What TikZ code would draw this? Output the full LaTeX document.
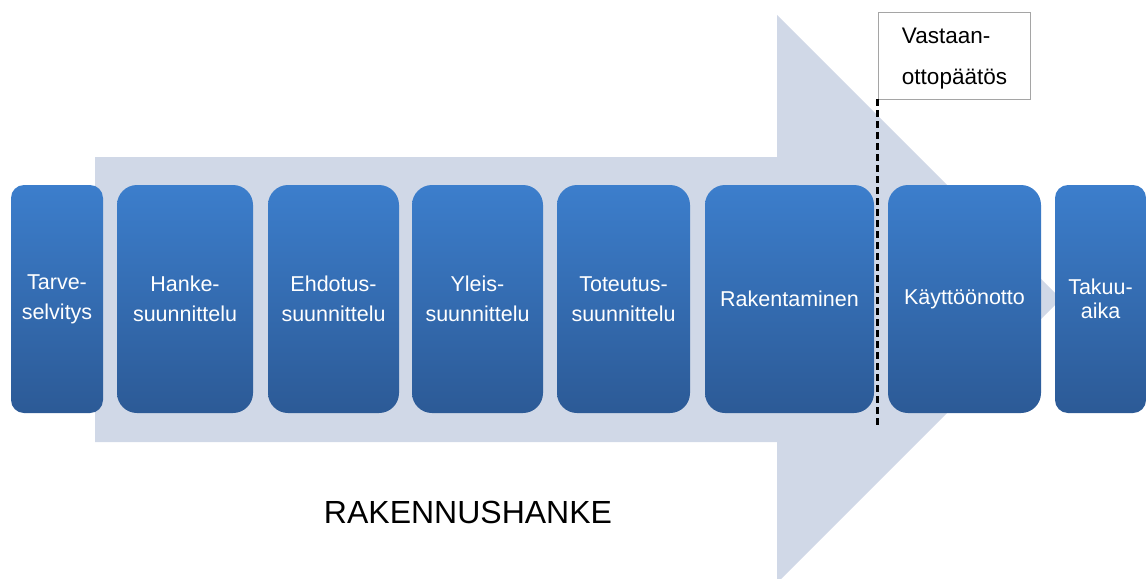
\documentclass[tikz,border=0pt]{standalone}
\usepackage{fontspec}
\setmainfont{Liberation Sans}
\definecolor{arrowfill}{RGB}{208,216,231}
\definecolor{boxtop}{RGB}{60,126,204}
\definecolor{boxbot}{RGB}{44,90,150}
\definecolor{framegray}{RGB}{165,165,165}
\tikzset{
  phase/.style={top color=boxtop, bottom color=boxbot, draw=none,
    minimum height=228pt, inner sep=2pt, align=center, text=white,
    font=\fontsize{21.5}{30}\selectfont, rounded corners=20pt},
  narrowphase/.style={phase, rounded corners=13pt},
  milestone/.style={draw=framegray, line width=0.9pt, fill=white,
    minimum width=152pt, minimum height=87pt, inner sep=0pt},
  milestonetext/.style={align=left, text=black,
    font=\fontsize{22.5}{41}\selectfont, inner sep=0pt},
  gate/.style={draw=black, line width=2.3pt, dash pattern=on 7pt off 4pt}
}
\begin{document}
\begin{tikzpicture}[x=1pt,y=-1pt]
\useasboundingbox (0,0) rectangle (1147,578);
% big arrow
\fill[arrowfill] (95,157) -- (777,157) -- (777,15) -- (1061,299) -- (777,583) -- (777,442) -- (95,442) -- cycle;
% phases
\node[narrowphase, minimum width=92pt] (tarve) at (57,299) {Tarve-\\selvitys};
\node[phase, minimum width=136pt] (hanke) at (185,299) {Hanke-\\suunnittelu};
\node[phase, minimum width=131pt] (ehdotus) at (333.5,299) {Ehdotus-\\suunnittelu};
\node[phase, minimum width=131pt] (yleis) at (477.5,299) {Yleis-\\suunnittelu};
\node[phase, minimum width=133pt] (toteutus) at (623.5,299) {Toteutus-\\suunnittelu};
\node[phase, minimum width=169pt] (rak) at (789.5,299) {Rakentaminen};
\node[phase, minimum width=153pt] (kayt) at (964.5,299) {Käyttöönotto};
\node[narrowphase, minimum width=91pt, font=\fontsize{21.5}{24}\selectfont] (takuu) at (1100.5,299) {Takuu-\\aika};
% milestone
\node[milestone] (vast) at (954,55.5) {};
\node[milestonetext] (vasttext) at (954.5,59) {Vastaan-\\ottopäätös};
\coordinate (gateend) at (879,425);
\draw[gate] (vast.south west) -- (vast.south west |- gateend);
% title
\node[font=\fontsize{32}{38}\selectfont, text=black] (title) at (468,512) {RAKENNUSHANKE};
\end{tikzpicture}
\end{document}
